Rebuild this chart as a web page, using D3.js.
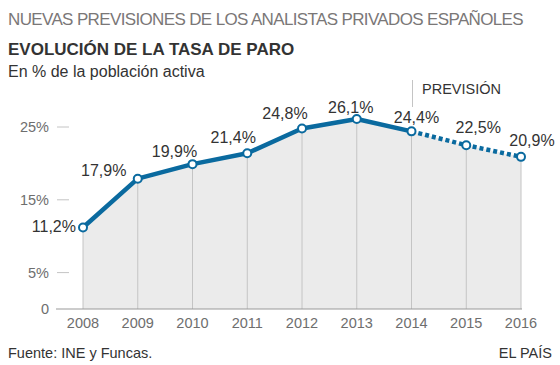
<!DOCTYPE html>
<html><head><meta charset="utf-8">
<script src="https://cdn.jsdelivr.net/npm/d3@7"></script>
<style>body{margin:0;background:#fff}svg{display:block;font-family:Arial,"Liberation Sans",sans-serif}</style>
</head><body><svg id="c" width="560" height="365"></svg>
<script>
const years = [2008, 2009, 2010, 2011, 2012, 2013, 2014, 2015, 2016];
const rates = [11.2, 17.9, 19.9, 21.4, 24.8, 26.1, 24.4, 22.5, 20.9];
const labels = ["11,2%", "17,9%", "19,9%", "21,4%", "24,8%", "26,1%", "24,4%", "22,5%", "20,9%"];
const forecastFrom = 2014;
const yTicks = [0, 5, 15, 25];
const yTickLabels = ["0", "5%", "15%", "25%"];

// label placement (layout, not data)
const labelDx = [-7, -34, -18, -14, -17, -6, 5, 12, 11];
const labelDy = [5, -3, -7, -10, -9, -6, -8, -12, -11];

const svg = d3.select("#c");
const x = d3.scaleLinear().domain([2008, 2016]).range([83, 521]);
const y = d3.scaleLinear().domain([0, 25]).range([309, 127]);
const data = years.map((yr, i) => ({yr, v: rates[i], l: labels[i], dx: labelDx[i], dy: labelDy[i]}));

function fitWidth(sel, w) {
  const n = sel.text().length;
  const cur = sel.node().getComputedTextLength();
  sel.attr("letter-spacing", ((w - cur) / n).toFixed(3));
}

// titles
const t1 = svg.append("text").attr("x", 8).attr("y", 25).attr("fill", "#7a7777").attr("font-size", 17).text("NUEVAS PREVISIONES DE LOS ANALISTAS PRIVADOS ESPAÑOLES");
fitWidth(t1, 515);
svg.append("text").attr("x", 8).attr("y", 55).attr("fill", "#333").attr("font-size", 17).attr("font-weight", "bold").text("EVOLUCIÓN DE LA TASA DE PARO");
svg.append("text").attr("x", 8).attr("y", 77).attr("fill", "#333").attr("font-size", 16).text("En % de la población activa");

// area
svg.append("path").datum(data)
  .attr("fill", "#ebebeb")
  .attr("d", d3.area().x(d => x(d.yr)).y0(y(0)).y1(d => y(d.v)));

// vertical lines
svg.selectAll(".vl").data(data).join("line")
  .attr("x1", d => x(d.yr)).attr("x2", d => x(d.yr))
  .attr("y1", d => y(d.v)).attr("y2", y(0))
  .attr("stroke", "#c4c4c4").attr("stroke-width", 1);

// y axis ticks
svg.selectAll(".yt").data(yTicks.filter(t => t > 0)).join("line")
  .attr("x1", 57).attr("x2", 69).attr("y1", d => y(d)).attr("y2", d => y(d))
  .attr("stroke", "#c4c4c4");
svg.selectAll(".yl").data(yTicks).join("text")
  .attr("x", 49).attr("y", d => y(d) + 5).attr("text-anchor", "end")
  .attr("fill", "#6e6e6e").attr("font-size", 14.5)
  .text((d, i) => yTickLabels[i]);

// baseline
svg.append("line").attr("x1", 56).attr("x2", 522).attr("y1", y(0)).attr("y2", y(0)).attr("stroke", "#999");

// x labels
svg.selectAll(".xl").data(years).join("text")
  .attr("x", d => x(d)).attr("y", 328).attr("text-anchor", "middle")
  .attr("fill", "#6e6e6e").attr("font-size", 14.5).text(d => d);

// lines
const line = d3.line().x(d => x(d.yr)).y(d => y(d.v));
svg.append("path").datum(data.filter(d => d.yr <= forecastFrom))
  .attr("fill", "none").attr("stroke", "#0a6a9f").attr("stroke-width", 4.5)
  .attr("stroke-linejoin", "round").attr("d", line);
svg.append("path").datum(data.filter(d => d.yr >= forecastFrom))
  .attr("fill", "none").attr("stroke", "#0a6a9f").attr("stroke-width", 4.5)
  .attr("stroke-dasharray", "4,3").attr("d", line);

// markers
svg.selectAll(".pt").data(data).join("circle")
  .attr("cx", d => x(d.yr)).attr("cy", d => y(d.v)).attr("r", 4)
  .attr("fill", "#fff").attr("stroke", "#0a6a9f").attr("stroke-width", 2);

// value labels
svg.selectAll(".vlab").data(data).join("text")
  .attr("x", d => x(d.yr) + d.dx).attr("y", d => y(d.v) + d.dy)
  .attr("text-anchor", (d, i) => i === 0 ? "end" : "middle")
  .attr("fill", "#333").attr("font-size", 16).text(d => d.l);

// forecast marker
svg.append("line").attr("x1", x(forecastFrom) + 1).attr("x2", x(forecastFrom) + 1)
  .attr("y1", 80).attr("y2", 107).attr("stroke", "#c4c4c4");
svg.append("text").attr("x", 422).attr("y", 94).attr("fill", "#333").attr("font-size", 14.5).text("PREVISIÓN");

// footer
svg.append("text").attr("x", 8).attr("y", 358).attr("fill", "#333").attr("font-size", 14.5).text("Fuente: INE y Funcas.");
svg.append("text").attr("x", 552).attr("y", 358).attr("text-anchor", "end").attr("fill", "#333").attr("font-size", 14.5).text("EL PAÍS");
</script></body></html>
